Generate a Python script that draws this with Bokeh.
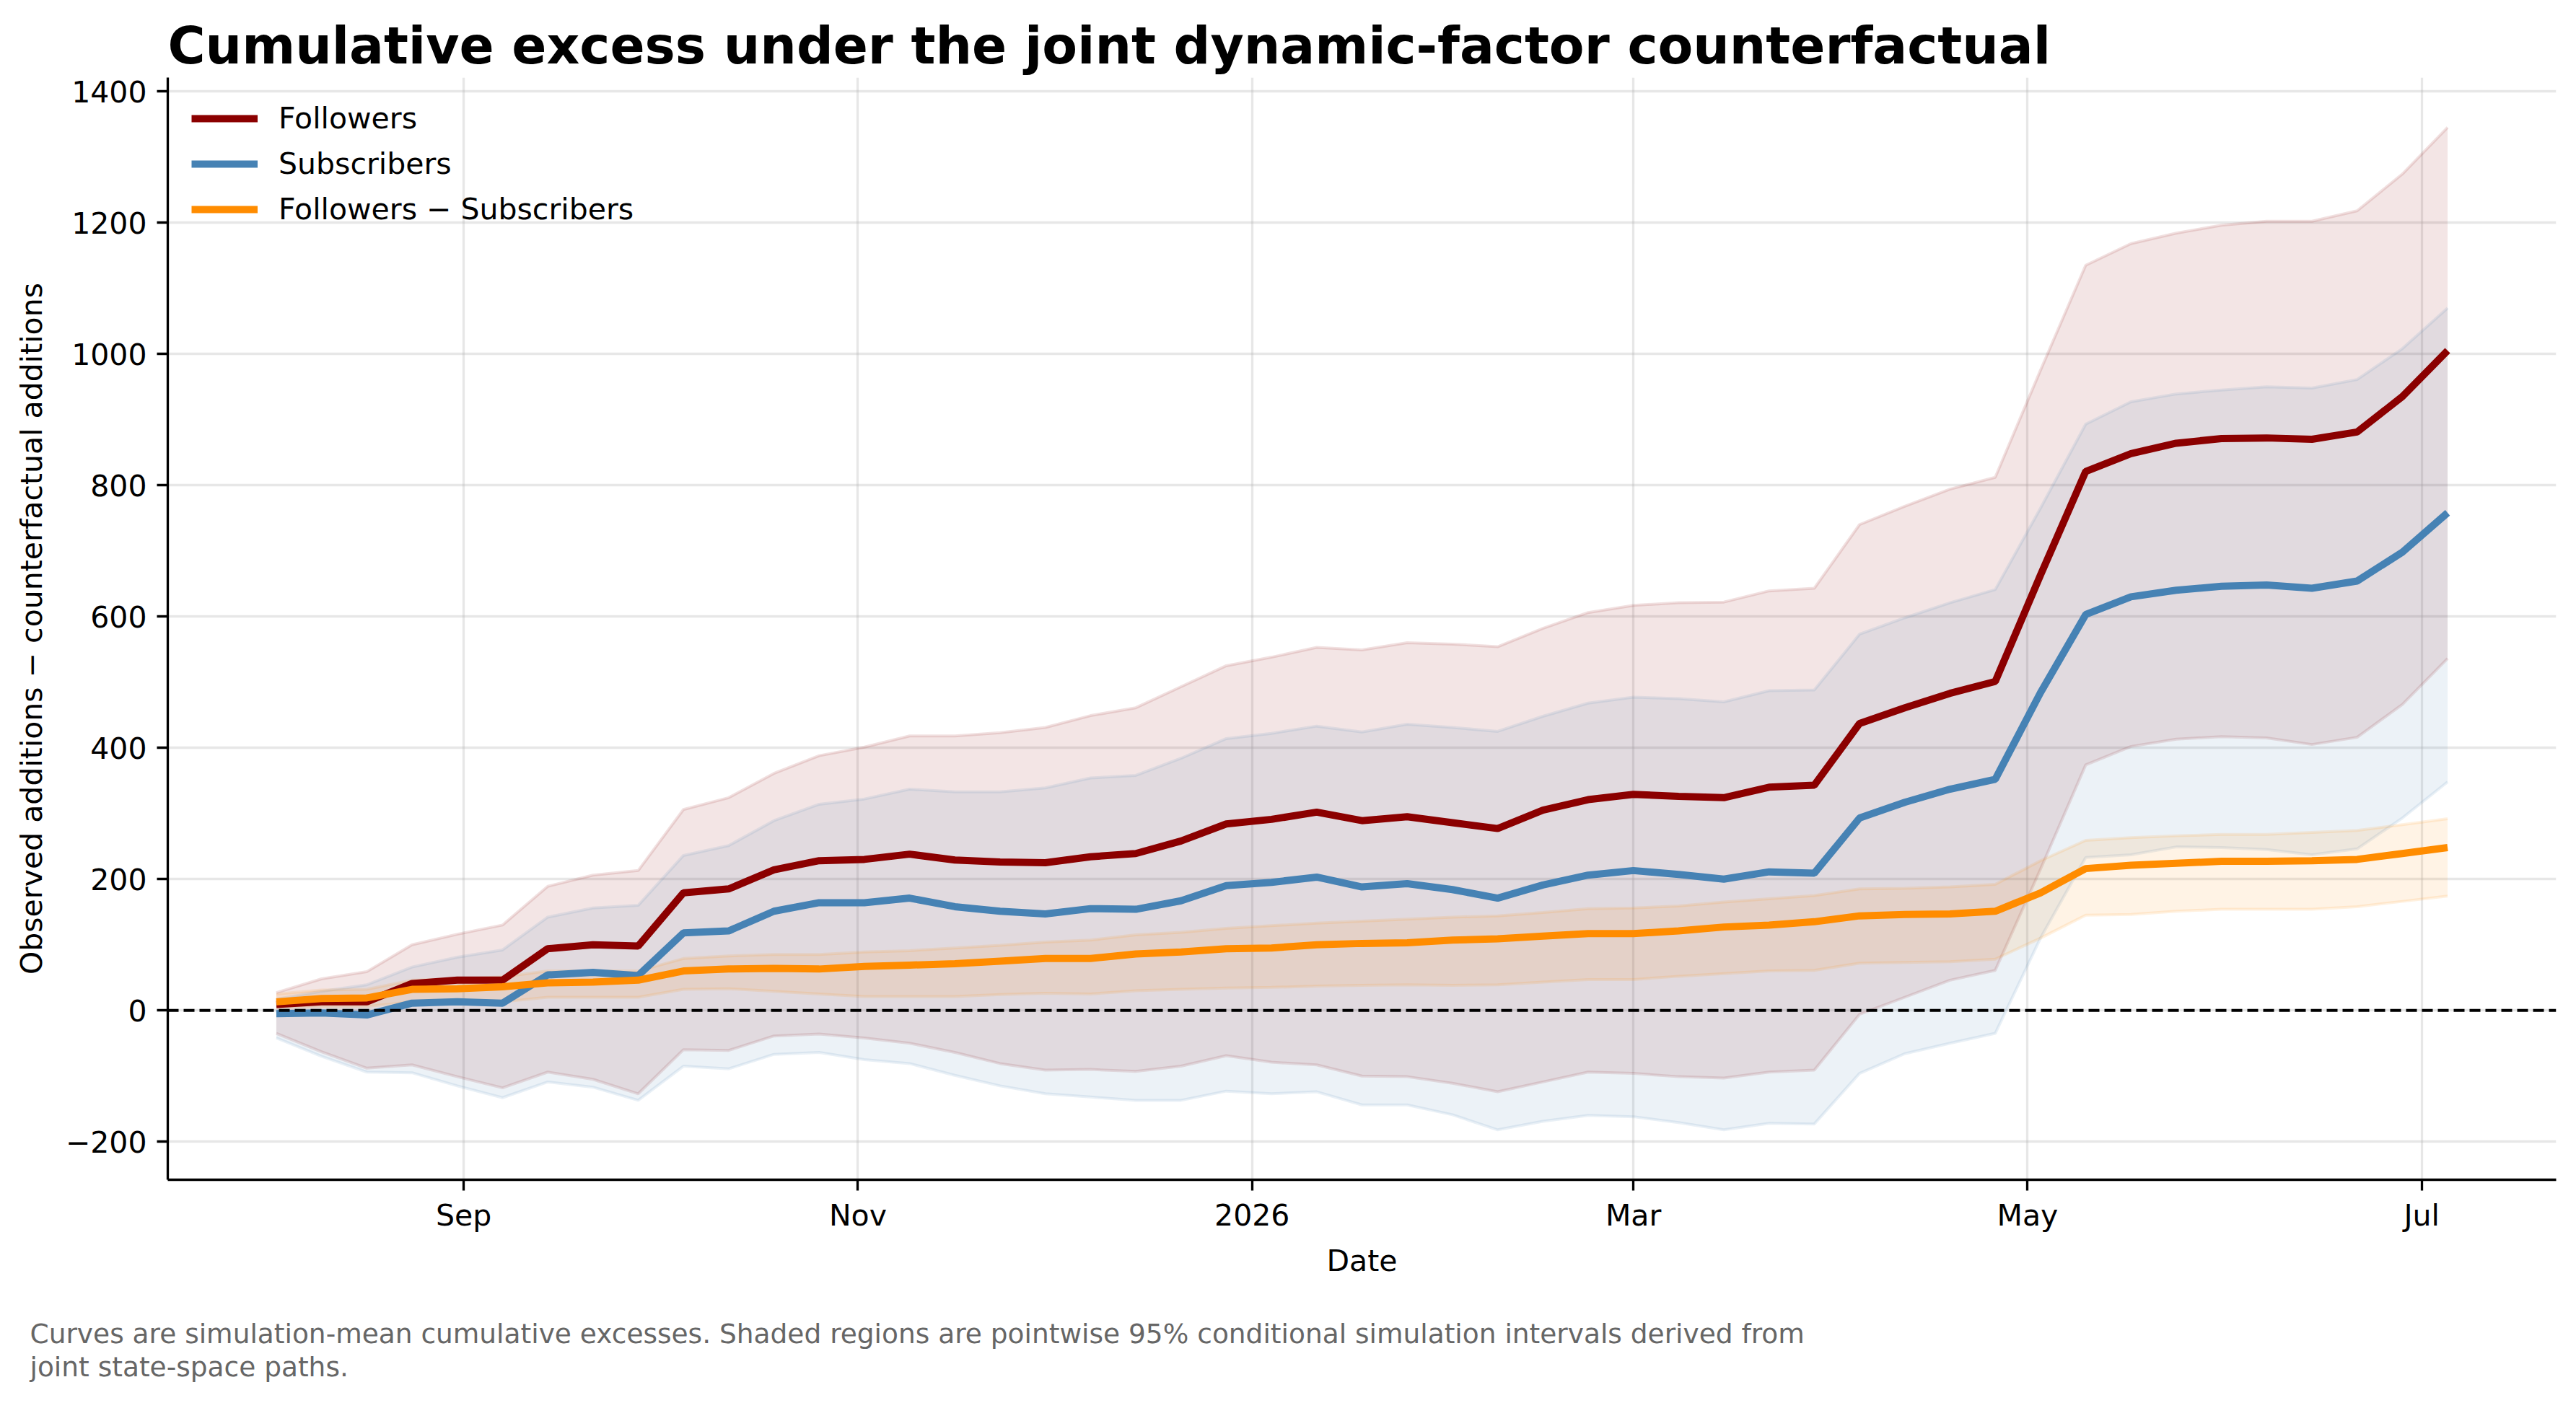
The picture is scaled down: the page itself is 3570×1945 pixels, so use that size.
import pandas as pd
from bokeh.plotting import figure
from bokeh.models import Range1d, FixedTicker, Span, Title
from bokeh.embed import file_html
from bokeh.resources import INLINE

# ---------------- data ----------------
dates = list(pd.date_range("2025-08-03", periods=49, freq="7D"))

followers = [9, 13, 13, 41, 46, 46, 94, 100, 98, 179, 185, 214, 228,
             230, 238, 229, 226, 225, 234, 239, 258, 284, 291, 302, 289, 295,
             286, 277, 305, 321, 329, 326, 324, 340, 343, 437, 461, 483, 501,
             663, 821, 848, 864, 871, 872, 870, 881, 935, 1005]
followers_lo = [-35, -63, -88, -83, -101, -118, -94, -105, -127, -60, -61, -39, -36,
                -42, -50, -64, -81, -91, -90, -93, -85, -69, -79, -83, -100, -101,
                -111, -124, -109, -94, -96, -101, -103, -94, -91, -6, 20, 46, 61,
                215, 374, 402, 413, 417, 415, 405, 416, 466, 536]
followers_hi = [27, 48, 59, 100, 116, 130, 189, 206, 213, 306, 324, 361, 388,
                401, 418, 418, 423, 431, 449, 461, 493, 525, 538, 553, 549, 560,
                558, 554, 582, 606, 617, 621, 622, 639, 643, 740, 768, 794, 812,
                975, 1135, 1168, 1184, 1196, 1202, 1202, 1218, 1274, 1345]

subscribers = [-5, -4, -7, 11, 13, 11, 54, 58, 53, 118, 121, 151, 164,
               164, 171, 158, 151, 147, 155, 154, 167, 190, 195, 203, 188, 193,
               184, 171, 191, 206, 213, 207, 200, 211, 209, 293, 317, 337, 352,
               484, 603, 630, 640, 646, 648, 643, 654, 698, 758]
subscribers_lo = [-42, -70, -94, -95, -115, -133, -109, -117, -137, -85, -89, -67, -64,
                  -75, -81, -99, -115, -127, -132, -137, -137, -123, -127, -124, -144, -144,
                  -159, -182, -169, -160, -162, -171, -182, -172, -173, -96, -66, -50, -35,
                  110, 233, 237, 249, 248, 245, 237, 246, 293, 348]
subscribers_hi = [17, 29, 39, 66, 81, 92, 142, 156, 160, 236, 251, 289, 314,
                  322, 337, 333, 333, 339, 354, 358, 384, 414, 422, 433, 424, 436,
                  431, 425, 448, 468, 477, 475, 470, 487, 488, 573, 598, 621, 641,
                  765, 893, 927, 939, 945, 950, 948, 961, 1008, 1070]

diff = [13, 18, 19, 32, 33, 36, 42, 43, 46, 60, 63, 64, 63,
        67, 69, 71, 75, 79, 79, 86, 89, 94, 95, 100, 102, 103,
        107, 109, 113, 117, 117, 121, 127, 130, 135, 144, 146, 147, 151,
        179, 216, 221, 224, 227, 227, 228, 230, 239, 248]
diff_lo = [4, 6, 6, 13, 13, 13, 20, 20, 20, 32, 33, 29, 25,
           21, 21, 21, 24, 26, 25, 30, 32, 34, 35, 37, 38, 39,
           38, 39, 43, 47, 47, 52, 56, 60, 61, 72, 73, 74, 78,
           110, 145, 146, 151, 154, 154, 154, 158, 166, 174]
diff_hi = [25, 31, 32, 46, 48, 51, 60, 60, 60, 79, 83, 85, 85,
           89, 91, 95, 99, 104, 107, 115, 119, 125, 129, 133, 136, 139,
           142, 144, 149, 155, 156, 159, 165, 170, 175, 185, 186, 188, 192,
           228, 259, 263, 266, 268, 268, 271, 274, 283, 292]

series_names = ["Followers", "Subscribers", "Followers \u2212 Subscribers"]
series_colors = ["#8B0000", "#4682B4", "#FF8C00"]

x_tick_dates = ["2025-09-01", "2025-11-01", "2026-01-01", "2026-03-01", "2026-05-01", "2026-07-01"]
x_tick_labels = ["Sep", "Nov", "2026", "Mar", "May", "Jul"]
y_ticks = [-200, 0, 200, 400, 600, 800, 1000, 1200, 1400]
y_tick_labels = ["\u2212200", "0", "200", "400", "600", "800", "1000", "1200", "1400"]

title_text = "Cumulative excess under the joint dynamic-factor counterfactual"
caption_lines = [
    "Curves are simulation-mean cumulative excesses. Shaded regions are pointwise 95% conditional simulation intervals derived from",
    "joint state-space paths.",
]

# ---------------- figure ----------------
FONT = "DejaVu Sans"
span = dates[-1] - dates[0]
x_start = dates[0] - span * 0.05
x_end = dates[-1] + span * 0.05

p = figure(width=3554, height=1929, x_axis_type="datetime",
           x_range=Range1d(x_start, x_end), y_range=Range1d(-258, 1421),
           output_backend="svg", toolbar_location=None,
           min_border_left=232, min_border_right=12,
           min_border_top=107, min_border_bottom=294)
p.background_fill_color = "white"
p.border_fill_color = "white"
p.outline_line_color = None

p.title.text = title_text
p.title.text_font = FONT
p.title.text_font_size = "71px"
p.title.text_font_style = "bold"
p.title.text_color = "black"
p.title.align = "left"
p.title.standoff = 6

bands = [(followers_lo, followers_hi), (subscribers_lo, subscribers_hi), (diff_lo, diff_hi)]
means = [followers, subscribers, diff]

for (lo, hi), col in zip(bands, series_colors):
    p.varea(x=dates, y1=lo, y2=hi, fill_color=col, fill_alpha=0.1)
    p.line(dates, lo, line_color=col, line_alpha=0.12, line_width=4)
    p.line(dates, hi, line_color=col, line_alpha=0.12, line_width=4)

zero = Span(location=0, dimension="width", line_color="black",
            line_width=4, line_dash="15 7", level="glyph")
p.add_layout(zero)

for m, col, name in zip(means, series_colors, series_names):
    p.line(dates, m, line_color=col, line_width=10, legend_label=name)

# axes
x_ticks_ms = [pd.Timestamp(d).value // 10**6 for d in x_tick_dates]
p.xaxis.ticker = FixedTicker(ticks=x_ticks_ms)
p.xaxis.major_label_overrides = {t: l for t, l in zip(x_ticks_ms, x_tick_labels)}
p.yaxis.ticker = FixedTicker(ticks=y_ticks)
p.yaxis.major_label_overrides = {t: l for t, l in zip(y_ticks, y_tick_labels)}

for ax in (p.xaxis, p.yaxis):
    ax.axis_line_color = "black"
    ax.axis_line_width = 3.3
    ax.major_tick_line_color = "black"
    ax.major_tick_line_width = 3.3
    ax.major_tick_out = 15
    ax.major_tick_in = 0
    ax.minor_tick_line_color = None
    ax.major_label_text_font = FONT
    ax.major_label_text_font_size = "41px"
    ax.major_label_text_color = "black"
    ax.major_label_standoff = 14
    ax.axis_label_text_font = FONT
    ax.axis_label_text_font_size = "41px"
    ax.axis_label_text_font_style = "normal"
    ax.axis_label_text_color = "black"

p.xaxis.major_label_standoff = 10
p.xaxis.axis_label = "Date"
p.xaxis.axis_label_standoff = 12
p.yaxis.axis_label = "Observed additions \u2212 counterfactual additions"
p.yaxis.axis_label_standoff = 20

for g in (p.xgrid, p.ygrid):
    g.grid_line_color = "#b0b0b0"
    g.grid_line_alpha = 0.3
    g.grid_line_width = 3.3

# legend
lg = p.legend[0]
lg.location = "top_left"
lg.border_line_alpha = 0
lg.background_fill_alpha = 0
lg.label_text_font = FONT
lg.label_text_font_size = "41px"
lg.label_text_color = "black"
lg.glyph_width = 92
lg.glyph_height = 48
lg.label_height = 48
lg.label_standoff = 29
lg.spacing = 15
lg.padding = 0
lg.margin = 33

# spacer between the x axis and the caption
spacer = Title(text=" ", text_font_size="2px", standoff=47, text_color="white")
p.add_layout(spacer, "below")

# caption (two lines below the axis, one multi-line title)
caption = Title(text="\n".join(caption_lines), align="left", offset=-191, standoff=0,
                text_font=FONT, text_font_size="37.5px", text_font_style="normal",
                text_color="#666666", text_line_height=1.05)
p.add_layout(caption, "below")

open("out.html", "w").write(file_html(p, INLINE))
